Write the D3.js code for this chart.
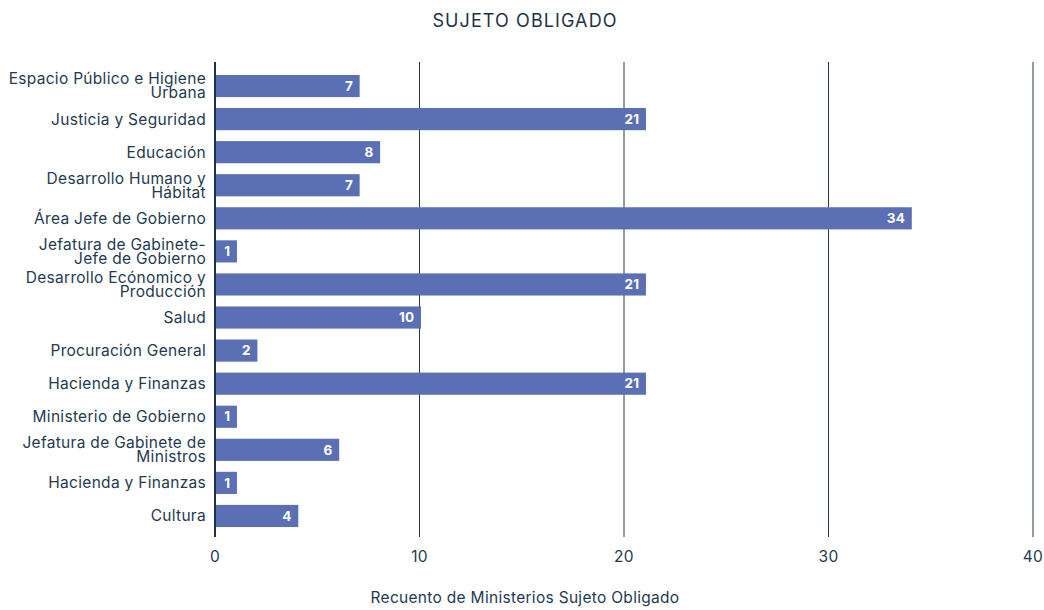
<!DOCTYPE html>
<html>
<head>
<meta charset="utf-8">
<script src="https://cdn.jsdelivr.net/npm/d3@7"></script>
<style>
  body { margin: 0; background: #fff; }
  text { font-family: Inter, "Noto Sans", sans-serif; }
</style>
</head>
<body>
<div id="chart"></div>
<script>
// data
var categories = [
  ["Espacio Público e Higiene", "Urbana"],
  ["Justicia y Seguridad"],
  ["Educación"],
  ["Desarrollo Humano y", "Hábitat"],
  ["Área Jefe de Gobierno"],
  ["Jefatura de Gabinete-", "Jefe de Gobierno"],
  ["Desarrollo Ecónomico y", "Producción"],
  ["Salud"],
  ["Procuración General"],
  ["Hacienda y Finanzas"],
  ["Ministerio de Gobierno"],
  ["Jefatura de Gabinete de", "Ministros"],
  ["Hacienda y Finanzas"],
  ["Cultura"]
];
var counts = [7, 21, 8, 7, 34, 1, 21, 10, 2, 21, 1, 6, 1, 4];
var xTicks = [0, 10, 20, 30, 40];

var w = 1044, h = 610;
var ink = "#253a4f";
var barCol = "#5b70b4";

var svg = d3.select("#chart").append("svg")
  .attr("width", w)
  .attr("height", h);

var x = d3.scaleLinear().domain([0, 40]).range([215, 1033]);
var y = d3.scaleBand()
  .domain(d3.range(categories.length))
  .range([69.5, 532.5])
  .paddingInner(0.33)
  .paddingOuter(0.165);

// grid lines
svg.append("g")
  .selectAll("line")
  .data(xTicks.slice(1))
  .join("line")
    .attr("x1", d => x(d)).attr("x2", d => x(d))
    .attr("y1", 62).attr("y2", 537)
    .attr("stroke", ink)
    .attr("stroke-width", 1);

// bars
svg.append("g")
  .selectAll("rect")
  .data(counts)
  .join("rect")
    .attr("x", x(0))
    .attr("y", (d, i) => y(i))
    .attr("width", d => x(d) - x(0) + 1.5)
    .attr("height", y.bandwidth())
    .attr("fill", barCol);

// value labels
svg.append("g")
  .selectAll("text")
  .data(counts)
  .join("text")
    .attr("x", d => x(d) - 5)
    .attr("y", (d, i) => y(i) + y.bandwidth() / 2)
    .attr("dy", "0.35em")
    .attr("text-anchor", "end")
    .attr("fill", "#fff")
    .attr("font-size", 13.5)
    .attr("font-weight", "bold")
    .attr("letter-spacing", 0.3)
    .text(d => d);

// zero line
svg.append("line")
  .attr("x1", x(0)).attr("x2", x(0))
  .attr("y1", 62).attr("y2", 537)
  .attr("stroke", "#1e3246")
  .attr("stroke-width", 2);

// category labels
var lab = svg.append("g")
  .selectAll("text")
  .data(categories)
  .join("text")
    .attr("x", 206)
    .attr("y", (d, i) => y(i) + y.bandwidth() / 2)
    .attr("text-anchor", "end")
    .attr("fill", ink)
    .attr("font-size", 15.5)
    .attr("letter-spacing", 0.3);

lab.each(function(d) {
  var t = d3.select(this);
  var lh = 14;
  var off = -(d.length - 1) * lh / 2;
  d.forEach(function(s, k) {
    t.append("tspan")
      .attr("x", 206)
      .attr("y", +t.attr("y") + off + k * lh)
      .attr("dy", "0.35em")
      .text(s);
  });
});

// x tick labels
svg.append("g")
  .selectAll("text")
  .data(xTicks)
  .join("text")
    .attr("x", d => x(d))
    .attr("y", 557)
    .attr("dy", "0.35em")
    .attr("text-anchor", "middle")
    .attr("fill", ink)
    .attr("font-size", 15.5)
    .attr("letter-spacing", 0.3)
    .text(d => d);

// titles
svg.append("text")
  .attr("x", 525).attr("y", 21)
  .attr("dy", "0.35em")
  .attr("text-anchor", "middle")
  .attr("fill", "#1e3246")
  .attr("font-size", 18)
  .attr("letter-spacing", 1.1)
  .text("SUJETO OBLIGADO");

svg.append("text")
  .attr("x", 525).attr("y", 598)
  .attr("dy", "0.35em")
  .attr("text-anchor", "middle")
  .attr("fill", ink)
  .attr("font-size", 15.5)
  .attr("letter-spacing", 0.3)
  .text("Recuento de Ministerios Sujeto Obligado");
</script>
</body>
</html>
